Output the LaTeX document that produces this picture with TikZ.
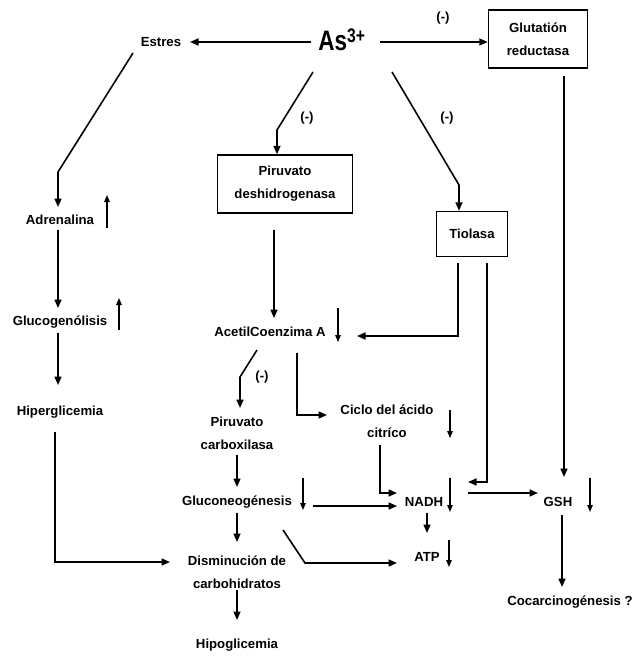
\documentclass[tikz,border=0pt]{standalone}
\usepackage{fontspec}
\setmainfont{Liberation Sans}
\usepackage{graphicx}
\usepackage{tikz}
\usetikzlibrary{arrows.meta}
\usetikzlibrary{calc}
\usetikzlibrary{positioning}
\tikzstyle{block} = [rectangle, draw, line width=1.7pt, align=center, inner sep=0pt]
\tikzstyle{term}  = [align=center, inner sep=1.2mm]
\tikzstyle{inh}   = [inner sep=1pt]
\tikzstyle{line}  = [draw, line width=1.8pt, -{Triangle[length=3.4mm,width=2.8mm]}]
\tikzstyle{trend} = [draw, line width=1.4pt, -{Triangle[length=2.8mm,width=2.2mm]}]

\begin{document}
\begin{tikzpicture}[x=0.4mm, y=-0.4mm, font=\bfseries\fontsize{15}{26}\selectfont]
	\useasboundingbox (0,0) rectangle (637,656);
	\node [term] (as) at (342,40) {\scalebox{0.8}[1]{\fontsize{32}{34}\selectfont As\textsuperscript{3+}}};
	\node [term] (estres) at (161,42) {Estres};
	\node [block, minimum width=39.6mm, minimum height=23.2mm] (glut) at (538,39) {Glutatión\\reductasa};
	\node [block, minimum width=54mm, minimum height=23.2mm] (pdh) at (285,184) {Piruvato\\deshidrogenasa};
	\node [block, minimum width=28.4mm, minimum height=18mm] (tio) at (472,234) {Tiolasa};
	\node [term] (adr) at (60,220) {Adrenalina};
	\node [term, below of=adr, node distance=4.08cm] (glc) {Glucogenólisis};
	\node [term, below of=glc, node distance=3.6cm] (hiper) {Hiperglicemia};
	\node [term] (acoa) at (270,332) {AcetilCoenzima A};
	\node [term] (pcarb) at (237,433) {Piruvato\\carboxilasa};
	\node [term, below of=pcarb, node distance=2.76cm] (gneo) {Gluconeogénesis};
	\node [term, below of=gneo, node distance=2.8cm] (dism) {Disminución de\\carbohidratos};
	\node [term, below of=dism, node distance=2.92cm] (hipo) {Hipoglicemia};
	\node [term] (ciclo) at (387,421) {Ciclo del ácido\\citríco};
	\node [term] (nadh) at (424,502) {NADH};
	\node [term] (atp) at (427,557) {ATP};
	\node [term] (gsh) at (558,502) {GSH};
	\node [term] (cocar) at (570,602) {Cocarcinogénesis ?};
	% inhibitions
	\node [inh] (m1) at (443,18) {(-)};
	\node [inh] (m2) at (307,118) {(-)};
	\node [inh] (m3) at (447,118) {(-)};
	\node [inh] (m4) at (262,377) {(-)};
	% arsenic
	\path [line] ([shift={(-31,2)}]as.center) -- ([shift={(29,0)}]estres.center);
	\path [line] ([shift={(38,2)}]as.center) -- ([yshift=-1.2mm]glut.west);
	\path [line] ([shift={(-29,32)}]as.center) -- ([shift={(-8,-54)}]pdh.center) -- ([xshift=-3.2mm]pdh.north);
	\path [line] ([shift={(50,32)}]as.center) -- ([shift={(-13,-49)}]tio.center) -- ([xshift=-5.2mm]tio.north);
	% stress branch
	\path [line] ([shift={(-28,11)}]estres.center) -- ([shift={(-2,-48)}]adr.center) -- ([shift={(-2,-13)}]adr.center);
	\path [line] ([shift={(-2,10)}]adr.center) -- ([shift={(-2,-14)}]glc.center);
	\path [line] ([shift={(-2,11)}]glc.center) -- ([shift={(-2,-27)}]hiper.center);
	\path [line] ([shift={(-5,20)}]hiper.center) |- ([shift={(-67,-10)}]dism.center);
	% enzymes
	\path [line] ([shift={(-11,46)}]pdh.center) -- ([shift={(4,-14)}]acoa.center);
	\path [line] ([shift={(-14,29)}]tio.center) |- ([shift={(87,4)}]acoa.center);
	\path [line] ([shift={(15,29)}]tio.center) |- ([shift={(44,-20)}]nadh.center);
	\path [line] ([shift={(26,37)}]glut.center) -- ([shift={(6,-25)}]gsh.center);
	\path [line] ([shift={(4,13)}]gsh.center) -- ([shift={(-8,-15)}]cocar.center);
	\path [line] ([shift={(44,-9)}]nadh.center) -- ([shift={(-20,-9)}]gsh.center);
	\path [line] ([shift={(3,11)}]nadh.center) -- ([shift={(0,-24)}]atp.center);
	% acetil-CoA
	\path [line] ([shift={(-13,18)}]acoa.center) -- ([shift={(3,-56)}]pcarb.center) -- ([shift={(3,-25)}]pcarb.center);
	\path [line] ([shift={(27,21)}]acoa.center) |- ([shift={(-60,-6)}]ciclo.center);
	\path [line] ([shift={(-7,24)}]ciclo.center) |- ([shift={(-27,-9)}]nadh.center);
	\path [line] ([shift={(76,4)}]gneo.center) -- ([shift={(-27,4)}]nadh.center);
	\path [line] ([shift={(46,28)}]gneo.center) -- ([shift={(68,61)}]gneo.center) -- ([shift={(-30,6)}]atp.center);
	\path [line] ([shift={(0,22)}]pcarb.center) -- ([shift={(0,-15)}]gneo.center);
	\path [line] ([shift={(0,11)}]gneo.center) -- ([shift={(0,-30)}]dism.center);
	\path [line] ([shift={(0,18)}]dism.center) -- ([shift={(0,-25)}]hipo.center);
	% up / down
	\path [trend] (adr.center) ++(47,8) -- ++(0,-33);
	\path [trend] (glc.center) ++(59,8) -- ++(0,-32);
	\path [trend] (acoa.center) ++(68,-24) -- ++(0,34);
	\path [trend] (ciclo.center) ++(63,-11) -- ++(0,28);
	\path [trend] (gneo.center) ++(66,-24) -- ++(0,32);
	\path [trend] (nadh.center) ++(26,-24) -- ++(0,34);
	\path [trend] (atp.center) ++(22,-17) -- ++(0,27);
	\path [trend] (gsh.center) ++(32,-24) -- ++(0,34);
\end{tikzpicture}
\end{document}
